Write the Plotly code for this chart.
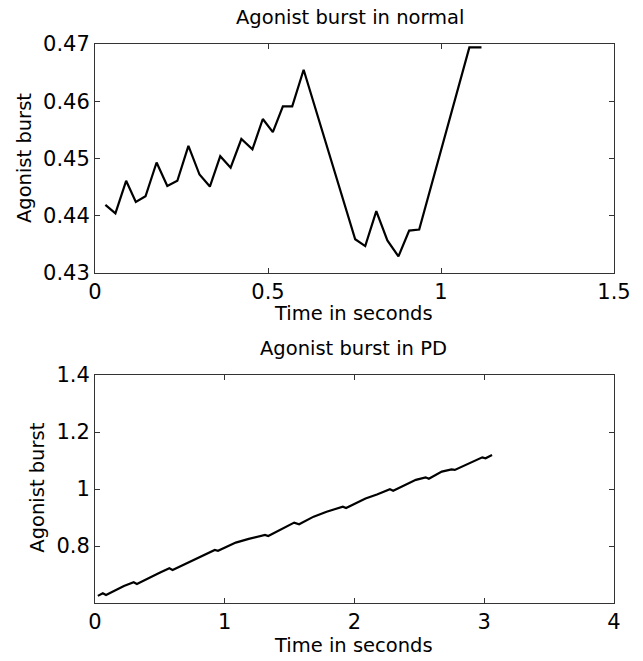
import plotly.graph_objects as go

# Top panel: Agonist burst in normal
t_normal = [0.030, 0.059, 0.090, 0.118, 0.146, 0.178, 0.209, 0.238, 0.270, 0.302,
            0.332, 0.362, 0.392, 0.423, 0.455, 0.485, 0.514, 0.543, 0.570, 0.603,
            0.752, 0.781, 0.813, 0.845, 0.877, 0.908, 0.937, 1.082, 1.117]
burst_normal = [0.4419, 0.4404, 0.4461, 0.4424, 0.4434, 0.4493, 0.4452, 0.4461, 0.4522, 0.4472,
                0.4451, 0.4504, 0.4484, 0.4534, 0.4516, 0.4569, 0.4546, 0.4591, 0.4591, 0.4655,
                0.4359, 0.4347, 0.4408, 0.4357, 0.4329, 0.4374, 0.4376, 0.4694, 0.4694]

# Bottom panel: Agonist burst in PD
t_pd = [0.022, 0.060, 0.085, 0.223, 0.298, 0.323, 0.498, 0.573, 0.598, 0.798,
        0.923, 0.948, 1.048, 1.085, 1.185, 1.310, 1.335, 1.535, 1.573, 1.685,
        1.785, 1.910, 1.935, 2.060, 2.085, 2.173, 2.273, 2.298, 2.473, 2.548,
        2.573, 2.673, 2.748, 2.773, 2.898, 2.985, 3.010, 3.060]
burst_pd = [0.625, 0.634, 0.628, 0.660, 0.673, 0.667, 0.706, 0.722, 0.716, 0.760,
            0.786, 0.783, 0.803, 0.812, 0.825, 0.839, 0.835, 0.882, 0.876, 0.903,
            0.920, 0.938, 0.933, 0.961, 0.967, 0.981, 0.999, 0.994, 1.032, 1.041,
            1.036, 1.061, 1.069, 1.067, 1.092, 1.111, 1.108, 1.119]

top_xticks = [0, 0.5, 1, 1.5]
top_xlabels = ["0", "0.5", "1", "1.5"]
top_yticks = [0.43, 0.44, 0.45, 0.46, 0.47]
top_ylabels = ["0.43", "0.44", "0.45", "0.46", "0.47"]
bot_xticks = [0, 1, 2, 3, 4]
bot_xlabels = ["0", "1", "2", "3", "4"]
bot_yticks = [0.8, 1.0, 1.2, 1.4]
bot_ylabels = ["0.8", "1", "1.2", "1.4"]

FONT = "DejaVu Sans, sans-serif"
W, H = 643, 661
L, R, T, B = 95, 14, 44, 58
plot_h = H - T - B
top_dom = [(603 - 273) / plot_h, 1.0]
bot_dom = [0.0, (603 - 375) / plot_h]

fig = go.Figure()
fig.add_trace(go.Scatter(x=t_normal, y=burst_normal, mode="lines",
                         line=dict(color="black", width=2.2), xaxis="x", yaxis="y",
                         showlegend=False, hoverinfo="skip"))
fig.add_trace(go.Scatter(x=t_pd, y=burst_pd, mode="lines",
                         line=dict(color="black", width=2.2), xaxis="x2", yaxis="y2",
                         showlegend=False, hoverinfo="skip"))

axis_common = dict(showline=True, linecolor="#333", linewidth=1, mirror="ticks",
                   ticks="inside", ticklen=5, tickcolor="#333", showgrid=False,
                   zeroline=False, tickfont=dict(family=FONT, size=21, color="black"))

fig.update_layout(
    width=W, height=H,
    margin=dict(l=L, r=R, t=T, b=B),
    paper_bgcolor="white", plot_bgcolor="white",
    xaxis=dict(domain=[0, 1], anchor="y", range=[0, 1.5], tickvals=top_xticks,
               ticktext=top_xlabels, **axis_common),
    yaxis=dict(domain=top_dom, anchor="x", range=[0.43, 0.47], tickvals=top_yticks,
               ticktext=top_ylabels, **axis_common),
    xaxis2=dict(domain=[0, 1], anchor="y2", range=[0, 4], tickvals=bot_xticks,
                ticktext=bot_xlabels, **axis_common),
    yaxis2=dict(domain=bot_dom, anchor="x2", range=[0.6, 1.4], tickvals=bot_yticks,
                ticktext=bot_ylabels, **axis_common),
)

label_font = dict(family=FONT, size=19.5, color="black")
ann = [
    dict(text="Agonist burst in normal", x=358, y=18),
    dict(text="Time in seconds", x=361, y=313),
    dict(text="Agonist burst in PD", x=361, y=348),
    dict(text="Time in seconds", x=361, y=645),
]
for a in ann:
    fig.add_annotation(text=a["text"], xref="paper", yref="paper",
                       x=(a["x"] - L) / (W - L - R), y=(H - B - a["y"]) / plot_h,
                       xanchor="center", yanchor="middle", showarrow=False,
                       font=label_font)
for xc, yc in [(22, 158), (35, 488)]:
    fig.add_annotation(text="Agonist burst", xref="paper", yref="paper",
                       x=(xc - L) / (W - L - R), y=(H - B - yc) / plot_h,
                       xanchor="center", yanchor="middle", showarrow=False,
                       textangle=-90, font=label_font)

fig.write_html("out.html")
